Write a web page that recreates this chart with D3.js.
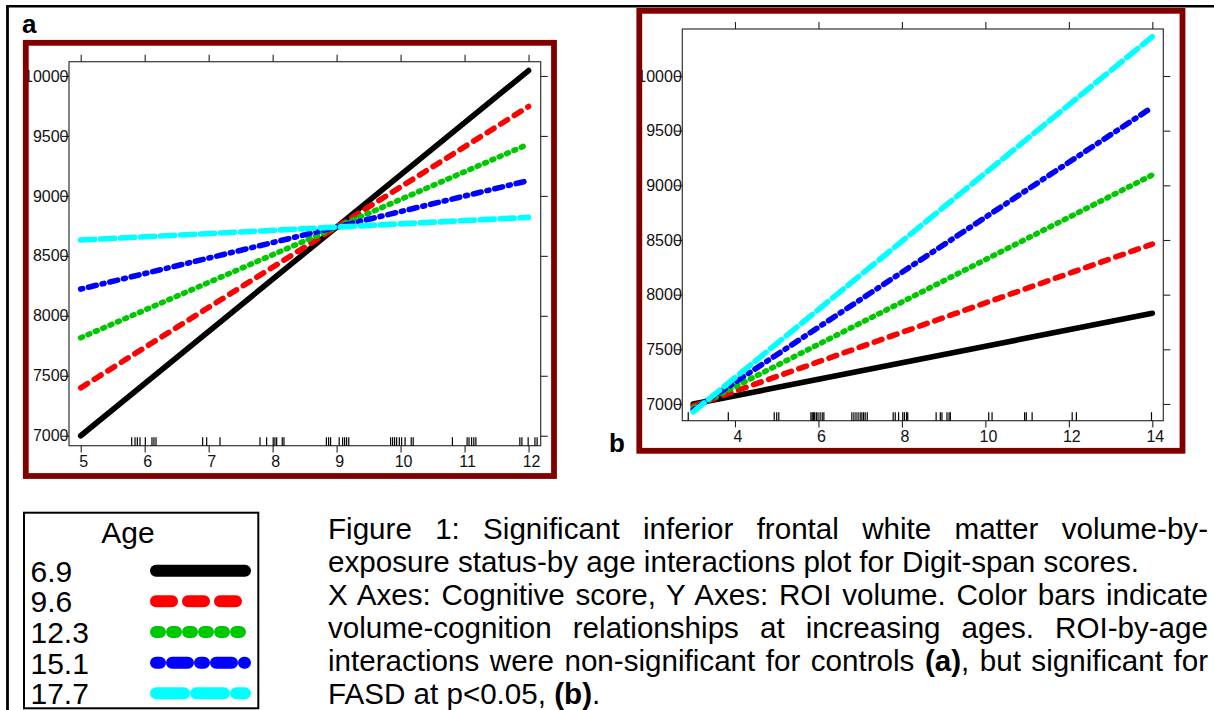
<!DOCTYPE html>
<html>
<head>
<meta charset="utf-8">
<script src="https://cdn.jsdelivr.net/npm/d3@7"></script>
<style>
  html, body { margin: 0; padding: 0; background: #fff; }
  svg { display: block; font-family: "Liberation Sans", Arial, Helvetica, sans-serif; }
</style>
</head>
<body>
<svg id="fig" width="1214" height="710"></svg>
<script>
// ---- data ----
const ages = ["6.9", "9.6", "12.3", "15.1", "17.7"];
const lineColors = ["#000000", "#ff0000", "#00c800", "#0000ff", "#00ffff"];
// R-style lty patterns (units scaled by line width)
const ltyPatterns = [null, [4, 4], [1, 3], [1, 3, 4, 3], [7, 3]];

const yTicks = [7000, 7500, 8000, 8500, 9000, 9500, 10000];

// panel a: controls
const xTicksA = [5, 6, 7, 8, 9, 10, 11, 12];
const xRangeA = [5, 12];
const yStartA = [7000, 7400, 7817, 8223, 8632];
const yEndA = [10045, 9745, 9432, 9128, 8821];
const rugA = [5.797, 5.849, 5.885, 5.927, 6.010, 6.114, 6.145, 6.177,
  6.906, 6.969, 7.177, 7.802, 7.906, 8.009, 8.036, 8.063, 8.15, 8.177,
  8.84, 8.875, 8.906, 9.04, 9.094, 9.125, 9.156, 9.19,
  9.844, 9.875, 9.906, 9.938, 9.98, 10.016, 10.07, 10.166, 10.197,
  10.81, 11.04, 11.07, 11.11, 11.145, 11.177,
  11.864, 11.896, 11.994, 12.10, 12.134];

// panel b: FASD
const xTicksB = [4, 6, 8, 10, 12, 14];
const xRangeB = [3, 14];
const yStartB = [6999, 6982, 6964, 6947, 6928];
const yEndB = [7830, 8463, 9095, 9714, 10360];
const rugB = [2.88, 3.84, 4.94, 5.0, 5.05,
  5.82, 5.85, 5.88, 5.91, 5.95, 5.99, 6.04, 6.09, 6.13,
  6.80, 6.85, 6.90, 6.95, 7.0, 7.04, 7.08, 7.12, 7.17,
  7.79, 7.84, 7.92, 8.02, 8.06, 8.11, 8.14,
  8.82, 8.92, 8.96, 9.08, 9.13, 9.16,
  10.08, 10.16, 10.94, 10.98, 11.12, 12.08, 12.18, 13.98];

// caption (segments: [text, bold])
const captionLines = [
  { parts: [["Figure 1: Significant inferior frontal white matter volume-by-", false]], justify: true },
  { parts: [["exposure status-by age interactions plot for Digit-span scores.", false]], justify: false },
  { parts: [["X Axes: Cognitive score, Y Axes: ROI volume. Color bars indicate", false]], justify: true },
  { parts: [["volume-cognition relationships at increasing ages. ROI-by-age", false]], justify: true },
  { parts: [["interactions were non-significant for controls ", false], ["(a)", true], [", but significant for", false]], justify: true },
  { parts: [["FASD at p<0.05, ", false], ["(b)", true], [".", false]], justify: false }
];

// ---- drawing ----
const svg = d3.select("#fig");
const MAROON = "#800000";

function dash(i, unit) {
  const p = ltyPatterns[i];
  return p ? p.map(v => v * unit).join(",") : null;
}

function drawPanel(cfg) {
  const g = svg.append("g");
  const x = d3.scaleLinear().domain(cfg.xDomain).range([cfg.left, cfg.right]);
  const y = d3.scaleLinear().domain(cfg.yDomain).range([cfg.bottom, cfg.top]);

  // plot box
  g.append("rect")
    .attr("x", cfg.left).attr("y", cfg.top)
    .attr("width", cfg.right - cfg.left).attr("height", cfg.bottom - cfg.top)
    .attr("fill", "#fff").attr("stroke", "#333").attr("stroke-width", 1.2);

  const styleAxis = sel => {
    sel.select(".domain").remove();
    sel.selectAll(".tick line").attr("stroke", "#222").attr("stroke-width", 1.1);
    sel.selectAll(".tick text").attr("fill", "#111")
      .style("font-size", "16px").style("font-family", "'Liberation Sans', Arial, sans-serif");
  };

  // bottom axis with labels
  g.append("g").attr("transform", `translate(0,${cfg.bottom})`)
    .call(d3.axisBottom(x).tickValues(cfg.xTicks).tickSize(6.7).tickSizeOuter(0).tickPadding(3.7).tickFormat(d3.format("d")))
    .call(styleAxis)
    .call(s => s.selectAll(".tick text").attr("dx", 2.5));
  // top axis, ticks only
  g.append("g").attr("transform", `translate(0,${cfg.top})`)
    .call(d3.axisTop(x).tickValues(cfg.xTicks).tickSize(7).tickSizeOuter(0).tickFormat(""))
    .call(styleAxis);
  // left axis, labels drawn over the ticks
  g.append("g").attr("transform", `translate(${cfg.left},0)`)
    .call(d3.axisLeft(y).tickValues(yTicks).tickSize(7).tickSizeOuter(0).tickPadding(-6.5).tickFormat(d3.format("d")))
    .call(styleAxis);
  // right axis, ticks only
  g.append("g").attr("transform", `translate(${cfg.right},0)`)
    .call(d3.axisRight(y).tickValues(yTicks).tickSize(7).tickSizeOuter(0).tickFormat(""))
    .call(styleAxis);

  // rug of observed scores
  g.append("g").selectAll("line").data(cfg.rug).join("line")
    .attr("x1", d => x(d)).attr("x2", d => x(d))
    .attr("y1", cfg.bottom).attr("y2", cfg.bottom - 8.5)
    .attr("stroke", "#000").attr("stroke-width", 1.2);

  // fitted lines, one per age
  const line = d3.line().x(d => x(d[0])).y(d => y(d[1]));
  g.append("g").selectAll("path").data(ages).join("path")
    .attr("d", (a, i) => line([[cfg.xRange[0], cfg.yStart[i]], [cfg.xRange[1], cfg.yEnd[i]]]))
    .attr("fill", "none")
    .attr("stroke", (a, i) => lineColors[i])
    .attr("stroke-width", 5.6)
    .attr("stroke-linecap", "round")
    .attr("stroke-dasharray", (a, i) => dash(i, 2));

  // maroon frame
  g.append("rect")
    .attr("x", cfg.frame[0]).attr("y", cfg.frame[1])
    .attr("width", cfg.frame[2] - cfg.frame[0]).attr("height", cfg.frame[3] - cfg.frame[1])
    .attr("fill", "none").attr("stroke", MAROON).attr("stroke-width", 5.8);
}

drawPanel({
  left: 69, right: 540.7, top: 61.7, bottom: 445.7,
  xDomain: [4.817, 12.19], yDomain: [6917, 10119],
  xTicks: xTicksA, xRange: xRangeA, yStart: yStartA, yEnd: yEndA, rug: rugA,
  frame: [25.8, 42.8, 554, 476]
});

drawPanel({
  left: 682.3, right: 1163.3, top: 29, bottom: 420.7,
  xDomain: [2.738, 14.263], yDomain: [6847, 10430],
  xTicks: xTicksB, xRange: xRangeB, yStart: yStartB, yEnd: yEndB, rug: rugB,
  frame: [639.3, 10.8, 1182.5, 450.8]
});

// outer page rules
svg.append("line").attr("x1", 7.5).attr("x2", 1214).attr("y1", 6.2).attr("y2", 6.2)
  .attr("stroke", "#000").attr("stroke-width", 2.5);
svg.append("line").attr("x1", 7.5).attr("x2", 7.5).attr("y1", 5).attr("y2", 710)
  .attr("stroke", "#000").attr("stroke-width", 2.8);

// panel letters
svg.append("text").attr("x", 22).attr("y", 33).text("a")
  .style("font-size", "26px").style("font-weight", "bold");
svg.append("text").attr("x", 609).attr("y", 452).text("b")
  .style("font-size", "26px").style("font-weight", "bold");

// legend
const lg = svg.append("g");
lg.append("rect").attr("x", 24).attr("y", 512.7).attr("width", 234.3).attr("height", 195.6)
  .attr("fill", "#fff").attr("stroke", "#000").attr("stroke-width", 2);
lg.append("text").attr("x", 128).attr("y", 543).attr("text-anchor", "middle")
  .style("font-size", "30px").text("Age");
const rowY = d3.scalePoint().domain(ages).range([570.7, 693.3]);
lg.selectAll("text.lab").data(ages).join("text").attr("class", "lab")
  .attr("x", 30.5).attr("y", d => rowY(d) + 11)
  .style("font-size", "30px").text(d => d);
lg.selectAll("line.key").data(ages).join("line").attr("class", "key")
  .attr("x1", 156).attr("x2", 245)
  .attr("y1", d => rowY(d)).attr("y2", d => rowY(d))
  .attr("stroke", (d, i) => lineColors[i])
  .attr("stroke-width", 12)
  .attr("stroke-linecap", "round")
  .attr("stroke-dasharray", (d, i) => dash(i, 4));

// caption, justified between two margins
const capLeft = 328, capRight = 1208, capY0 = 539, capStep = 33;
captionLines.forEach((ln, k) => {
  const t = svg.append("text").attr("x", capLeft).attr("y", capY0 + k * capStep)
    .style("font-size", "29.6px").attr("fill", "#000");
  ln.parts.forEach(([s, b]) => {
    t.append("tspan").text(s).style("font-weight", b ? "bold" : "normal");
  });
  if (ln.justify) {
    const full = ln.parts.map(p => p[0]).join("");
    const gaps = (full.match(/ /g) || []).length;
    const natural = t.node().getComputedTextLength();
    if (gaps > 0) t.attr("word-spacing", (capRight - capLeft - natural) / gaps);
  }
});
</script>
</body>
</html>
